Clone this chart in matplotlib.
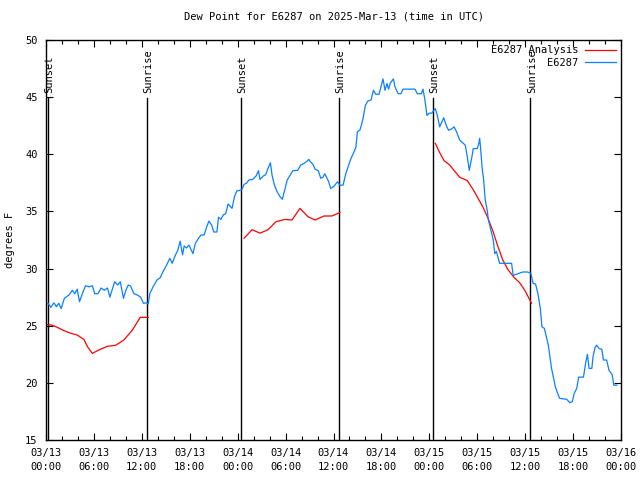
import numpy as np
import matplotlib
matplotlib.use("Agg")
import matplotlib.pyplot as plt
from matplotlib.ticker import MultipleLocator

# hours since 03/13 00:00 UTC
obs_hours = [0.1, 0.25, 0.6, 1.0, 1.3, 1.6, 1.9, 2.3, 2.9, 3.3, 3.6, 3.9, 4.2, 4.55, 4.95,
             5.4, 5.8, 6.1, 6.5, 6.9, 7.3, 7.7, 8.0, 8.6, 9.0, 9.3, 9.7, 10.0, 10.3, 10.6,
             11.0, 11.4, 11.85, 12.2, 12.6, 12.8, 13.0, 13.4, 13.9, 14.3, 14.7, 15.1, 15.5,
             15.8, 16.15, 16.5, 16.8, 17.1, 17.3, 17.6, 17.9, 18.4, 18.7, 19.1, 19.4, 19.8,
             20.1, 20.4, 20.75, 21.0, 21.4, 21.6, 21.9, 22.2, 22.5, 22.8, 23.3, 23.6, 23.9,
             24.5, 24.8, 25.1, 25.4, 25.9, 26.3, 26.6, 26.8, 27.2, 27.5, 27.8, 28.1, 28.3,
             28.6, 28.95, 29.3, 29.6, 29.9, 30.2, 30.6, 30.9, 31.5, 31.9, 32.3, 32.7, 32.9,
             33.1, 33.4, 33.7, 34.1, 34.4, 34.7, 34.9, 35.4, 35.65, 36.06, 36.5, 36.8, 37.2,
             37.5, 37.9, 38.2, 38.5, 38.8, 39.0, 39.3, 39.5, 39.7, 40.0, 40.3, 40.7, 41.0,
             41.3, 41.7, 42.2, 42.45, 42.7, 42.9, 43.1, 43.5, 43.7, 44.1, 44.45, 44.7, 45.4,
             46.2, 46.5, 47.0, 47.2, 47.45, 47.7, 48.0, 48.3, 48.75, 49.0, 49.3, 49.8, 50.1,
             50.4, 50.75, 51.1, 51.4, 51.8, 52.2, 52.5, 52.75, 53.0, 53.3, 53.5, 54.0, 54.2,
             54.3, 54.4, 54.6, 54.8, 55.0, 55.25, 55.4, 55.7, 56.0, 56.2, 56.4, 56.8, 57.4,
             58.3, 58.5, 58.9, 59.3, 59.7, 60.3, 60.7, 61.0, 61.3, 61.6, 61.9, 62.1, 62.4,
             62.9, 63.15, 63.3, 63.6, 63.8, 64.3, 65.2, 65.6, 65.9, 66.15, 66.45, 66.7, 67.3,
             67.6, 67.8, 68.0, 68.35, 68.5, 68.75, 68.95, 69.25, 69.6, 69.8, 70.2, 70.5,
             70.9, 71.1, 71.5]
obs_dewpt = [26.9, 26.96, 26.6, 27.0, 26.67, 26.96, 26.5, 27.4, 27.7, 28.1, 27.8, 28.2, 27.1,
             27.8, 28.5, 28.4, 28.5, 27.8, 27.8, 28.3, 28.1, 28.3, 27.5, 28.85, 28.56, 28.85,
             27.4, 28.1, 28.56, 28.47, 27.8, 27.7, 27.5, 26.96, 27.0, 26.9, 27.8, 28.4, 29.0,
             29.2, 29.8, 30.3, 30.9, 30.46, 31.1, 31.6, 32.4, 31.2, 31.98, 31.8, 32.06, 31.3,
             32.2, 32.65, 32.94, 32.94, 33.6, 34.16, 33.8, 33.2, 33.2, 34.5, 34.3, 34.7, 34.8,
             35.65, 35.27, 36.3, 36.8, 36.87, 37.37, 37.46, 37.75, 37.8, 38.1, 38.56, 37.8,
             38.1, 38.2, 38.77, 39.26, 38.2, 37.3, 36.7, 36.3, 36.06, 36.9, 37.75, 38.2, 38.56,
             38.6, 39.06, 39.2, 39.4, 39.56, 39.35, 39.15, 38.7, 38.56, 37.9, 38.0, 38.3, 37.6,
             37.0, 37.2, 37.6, 37.3, 37.3, 38.2, 39.06, 39.65, 40.1, 40.6, 41.98, 42.1, 42.56,
             43.15, 44.3, 44.66, 44.75, 45.6, 45.25, 45.25, 46.6, 45.6, 46.2, 45.7, 46.2, 46.6,
             45.9, 45.3, 45.3, 45.7, 45.7, 45.7, 45.3, 45.3, 45.7, 44.75, 43.4, 43.6, 43.6,
             44.0, 43.4, 42.4, 43.2, 42.56, 42.1, 42.2, 42.4, 41.98, 41.25, 41.0, 40.8, 39.8,
             38.6, 39.65, 40.5, 40.5, 40.96, 41.4, 40.7, 38.9, 37.75, 36.0, 35.1, 34.25, 33.4,
             32.5, 31.3, 31.5, 30.46, 30.46, 30.46, 29.4, 29.5, 29.6, 29.7, 29.7, 29.6, 28.7,
             28.65, 27.8, 26.5, 24.9, 24.77, 23.3, 22.0, 21.27, 20.25, 19.6, 18.65, 18.56,
             18.26, 18.35, 19.1, 19.5, 20.5, 20.5, 21.85, 22.5, 21.27, 21.27, 22.3, 23.1, 23.3,
             23.0, 22.94, 22.0, 22.0, 21.1, 20.7, 19.8, 19.8]

# analysis only at night, gaps as nan
ana_hours = [0.0, 0.7, 1.4, 2.25, 3.1, 3.9, 4.75, 5.2, 5.8, 6.6, 7.7, 8.7, 9.75, 10.8, 11.8, 12.8,
             np.nan,
             24.8, 25.8, 26.8, 27.8, 28.8, 29.9, 30.8, 31.8, 32.8, 33.7, 34.8, 35.8, 36.8,
             np.nan,
             48.75, 49.3, 49.85, 50.55, 51.2, 51.8, 52.75, 53.5, 54.1, 54.7, 55.35, 56.0, 56.6,
             57.2, 57.85, 58.6, 59.3, 59.95, 60.4, 60.8]
ana_dewpt = [25.1, 25.06, 24.86, 24.57, 24.34, 24.19, 23.8, 23.16, 22.58, 22.87, 23.2, 23.28,
             23.75, 24.6, 25.73, 25.73,
             np.nan,
             32.65, 33.4, 33.1, 33.4, 34.1, 34.3, 34.25, 35.27, 34.54, 34.25, 34.6, 34.6, 34.9,
             np.nan,
             40.96, 40.14, 39.44, 39.06, 38.5, 37.99, 37.7, 36.9, 36.15, 35.4, 34.4, 33.2, 31.9,
             30.75, 29.9, 29.24, 28.77, 28.1, 27.5, 26.96]

sun_hours = [0.2, 12.65, 24.4, 36.65, 48.4, 60.65]
sun_labels = ["Sunset", "Sunrise", "Sunset", "Sunrise", "Sunset", "Sunrise"]

tick_hours = list(range(0, 73, 6))
tick_labels = ["03/13\n00:00", "03/13\n06:00", "03/13\n12:00", "03/13\n18:00",
               "03/14\n00:00", "03/14\n06:00", "03/14\n12:00", "03/14\n18:00",
               "03/15\n00:00", "03/15\n06:00", "03/15\n12:00", "03/15\n18:00",
               "03/16\n00:00"]

plt.rcParams['font.family'] = ['DejaVu Sans Mono']
plt.rcParams['font.size'] = 7.5

fig = plt.figure(figsize=(6.4, 4.8), dpi=100)
ax = fig.add_axes([46 / 640, 40 / 480, 575 / 640, 400 / 480])

for h, lab in zip(sun_hours, sun_labels):
    ax.plot([h, h], [15, 44.9], color='black', lw=1.0)
    ax.text(h + 0.2, 45.4, lab, rotation=90, ha='center', va='bottom', fontsize=7.5)

ax.plot(ana_hours, ana_dewpt, color='#ff0000', lw=0.9, label='E6287 Analysis')
ax.plot(obs_hours, obs_dewpt, color='#0a80ff', lw=0.9, label='E6287')

ax.set_xlim(0, 72)
ax.set_ylim(15, 50)
ax.set_xticks(tick_hours)
ax.set_xticklabels(tick_labels, linespacing=1.4)
ax.xaxis.set_minor_locator(MultipleLocator(2))
ax.yaxis.set_major_locator(MultipleLocator(5))
ax.tick_params(which='both', direction='in', top=True, right=True, width=0.8)
ax.tick_params(which='major', length=5, pad=6)
ax.tick_params(which='minor', length=3)
for s in ax.spines.values():
    s.set_linewidth(1.0)

fig.text(10 / 640, 0.5, 'degrees F', rotation=90, ha='center', va='center')
ax.set_title('Dew Point for E6287 on 2025-Mar-13 (time in UTC)', pad=15, fontsize=7.5)

ax.legend(loc='upper right', markerfirst=False, frameon=False, handlelength=3.0,
          handletextpad=0.6, labelspacing=0.25, borderaxespad=0.1, fontsize=7.5)

fig.savefig('out.png', dpi=100)
